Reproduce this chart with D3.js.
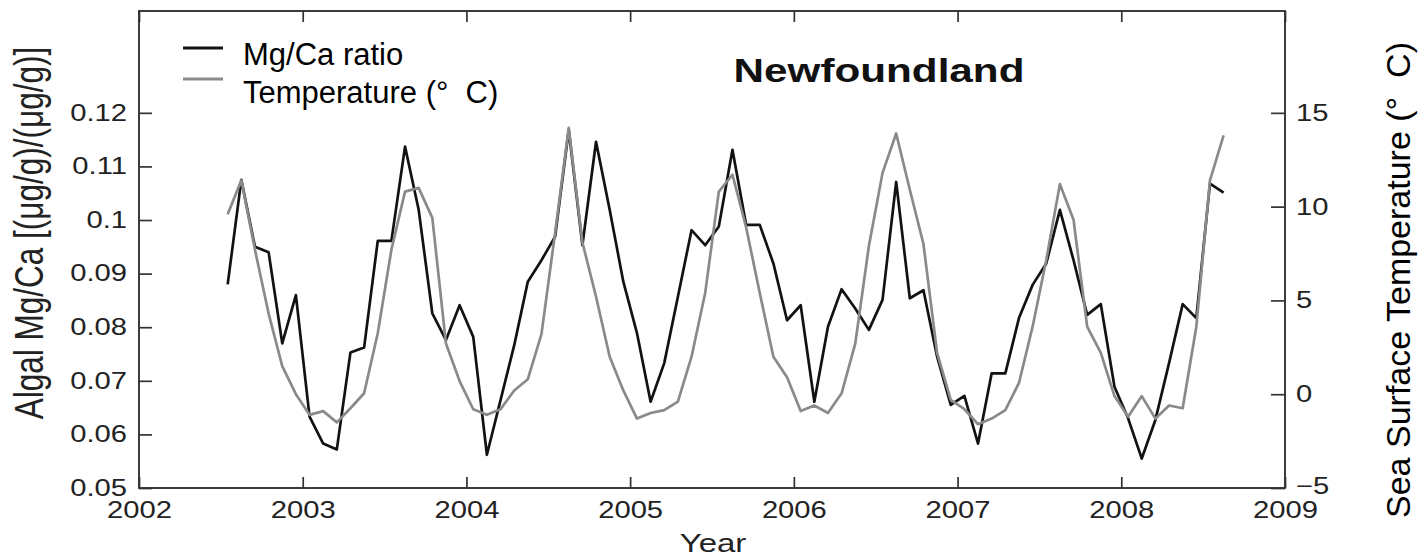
<!DOCTYPE html>
<html>
<head>
<meta charset="utf-8">
<script src="https://cdn.jsdelivr.net/npm/d3@7"></script>
<style>
  body { margin: 0; background: #fff; }
  svg { display: block; font-family: "Liberation Sans", Arial, Helvetica, sans-serif; }
</style>
</head>
<body>
<div id="chart"></div>
<script>
// monthly samples, Jul 2002 - Aug 2008
const months = [
  "2002-07","2002-08","2002-09","2002-10","2002-11","2002-12",
  "2003-01","2003-02","2003-03","2003-04","2003-05","2003-06","2003-07","2003-08","2003-09","2003-10","2003-11","2003-12",
  "2004-01","2004-02","2004-03","2004-04","2004-05","2004-06","2004-07","2004-08","2004-09","2004-10","2004-11","2004-12",
  "2005-01","2005-02","2005-03","2005-04","2005-05","2005-06","2005-07","2005-08","2005-09","2005-10","2005-11","2005-12",
  "2006-01","2006-02","2006-03","2006-04","2006-05","2006-06","2006-07","2006-08","2006-09","2006-10","2006-11","2006-12",
  "2007-01","2007-02","2007-03","2007-04","2007-05","2007-06","2007-07","2007-08","2007-09","2007-10","2007-11","2007-12",
  "2008-01","2008-02","2008-03","2008-04","2008-05","2008-06","2008-07","2008-08"
];

// algal Mg/Ca ratio
const mgca = [
  0.088, 0.1075, 0.095, 0.094, 0.077, 0.086,
  0.0633, 0.0583, 0.0572, 0.0753, 0.0762, 0.0961, 0.0961, 0.1137, 0.1019, 0.0826, 0.0776, 0.0841,
  0.0782, 0.0562, 0.0664, 0.0766, 0.0885, 0.0925, 0.0969, 0.1168, 0.0953, 0.1146, 0.1019, 0.0885,
  0.0789, 0.0661, 0.0733, 0.0857, 0.0981, 0.0953, 0.0988, 0.1131, 0.0991, 0.0991, 0.0919, 0.0813,
  0.0841, 0.0661, 0.0801, 0.0871, 0.0835, 0.0795, 0.0851, 0.1071, 0.0854, 0.0869, 0.0745, 0.0655,
  0.0672, 0.0583, 0.0714, 0.0714, 0.0817, 0.0879, 0.0919, 0.1019, 0.0925, 0.0823, 0.0843, 0.0689,
  0.063, 0.0555, 0.0627, 0.0733, 0.0843, 0.0817, 0.1068, 0.1051
];

// sea surface temperature (deg C)
const temperature = [
  9.6, 11.4, 7.7, 4.3, 1.5, 0.0,
  -1.1, -0.9, -1.5, -0.75, 0.05, 3.25, 7.7, 10.8, 11.0, 9.4, 2.7, 0.7,
  -0.8, -1.1, -0.8, 0.2, 0.8, 3.2, 8.6, 14.2, 8.1, 5.2, 2.0, 0.2,
  -1.3, -1.0, -0.85, -0.4, 2.0, 5.4, 10.8, 11.7, 8.9, 5.4, 2.0, 0.9,
  -0.9, -0.6, -1.0, 0.05, 2.7, 7.9, 11.8, 13.9, 10.9, 8.0, 2.2, -0.3,
  -0.8, -1.6, -1.3, -0.85, 0.6, 3.6, 7.15, 11.2, 9.3, 3.6, 2.2, -0.1,
  -1.2, -0.1, -1.3, -0.6, -0.75, 3.6, 11.4, 13.8
];

const yearTicks = [2002, 2003, 2004, 2005, 2006, 2007, 2008, 2009];
const mgcaTicks = [0.05, 0.06, 0.07, 0.08, 0.09, 0.1, 0.11, 0.12];
const tempTicks = [-5, 0, 5, 10, 15];

const width = 1420, height = 557;
const plot = {left: 139, right: 1285, top: 11, bottom: 488};
const sx = 1.27;   // the source figure is stretched sideways
const ink = "#222";

// month string -> decimal year (mid month)
const toYear = s => { const [y, m] = s.split("-").map(Number); return y + (m - 0.5) / 12; };
const mgData = months.map((m, i) => ({t: toYear(m), v: mgca[i]}));
const tData = months.map((m, i) => ({t: toYear(m), v: temperature[i]}));

const x = d3.scaleLinear().domain([2002, 2009]).range([plot.left, plot.right]);
const yL = d3.scaleLinear().domain([0.05, 0.139]).range([plot.bottom, plot.top]);
const yR = d3.scaleLinear().domain([-5, 20.43]).range([plot.bottom, plot.top]);

const svg = d3.select("#chart").append("svg")
    .attr("width", width)
    .attr("height", height)
    .attr("viewBox", [0, 0, width, height]);

// axes, ticks pointing inward
const gx = svg.append("g")
    .attr("transform", `translate(0,${plot.bottom})`)
    .call(d3.axisBottom(x).tickValues(yearTicks).tickFormat(d3.format("d")).tickSizeInner(-11).tickSizeOuter(0));
gx.selectAll("text")
    .attr("y", 0).attr("dy", 0)
    .attr("transform", `translate(0,30) scale(${sx},1)`);

const gt = svg.append("g")
    .attr("transform", `translate(0,${plot.top})`)
    .call(d3.axisTop(x).tickValues(yearTicks).tickFormat("").tickSizeInner(-11).tickSizeOuter(0));

const gl = svg.append("g")
    .attr("transform", `translate(${plot.left},0)`)
    .call(d3.axisLeft(yL).tickValues(mgcaTicks).tickFormat(d => String(+d.toFixed(2))).tickSizeInner(-13).tickSizeOuter(0));
gl.selectAll("text")
    .attr("x", 0)
    .attr("transform", `translate(-12,0) scale(${sx},1)`);

const gr = svg.append("g")
    .attr("transform", `translate(${plot.right},0)`)
    .call(d3.axisRight(yR).tickValues(tempTicks).tickFormat(d3.format("d")).tickSizeInner(-14).tickSizeOuter(0));
gr.selectAll("text")
    .attr("x", 0)
    .attr("transform", d => `translate(11,${d === -5 ? -2 : 0}) scale(${sx},1)`);

[gx, gt, gl, gr].forEach(g => {
  g.select(".domain").remove();
  g.selectAll("line").attr("stroke", "#333").attr("stroke-width", 1.7);
  g.selectAll("text").attr("fill", ink).attr("font-size", 23)
      .attr("font-family", "'Liberation Sans', Arial, sans-serif");
});

svg.append("rect")
    .attr("x", plot.left).attr("y", plot.top)
    .attr("width", plot.right - plot.left).attr("height", plot.bottom - plot.top)
    .attr("fill", "none")
    .attr("stroke", "#333")
    .attr("stroke-width", 1.9);

// series
svg.append("path")
    .datum(mgData)
    .attr("fill", "none")
    .attr("stroke", "#121212")
    .attr("stroke-width", 2.7)
    .attr("stroke-linejoin", "round")
    .attr("d", d3.line().x(d => x(d.t)).y(d => yL(d.v)));

svg.append("path")
    .datum(tData)
    .attr("fill", "none")
    .attr("stroke", "#8a8a8a")
    .attr("stroke-width", 2.7)
    .attr("stroke-linejoin", "round")
    .attr("d", d3.line().x(d => x(d.t)).y(d => yR(d.v)));

// labels
svg.append("text")
    .attr("transform", `translate(879,82) scale(1.28,1)`)
    .attr("text-anchor", "middle")
    .attr("font-size", 33)
    .attr("font-weight", "bold")
    .attr("fill", "#111")
    .text("Newfoundland");

svg.append("text")
    .attr("transform", `translate(713,552) scale(${sx},1)`)
    .attr("text-anchor", "middle")
    .attr("font-size", 26)
    .attr("fill", ink)
    .text("Year");

svg.append("text")
    .attr("transform", `translate(43,233) scale(${sx},1) rotate(-90)`)
    .attr("text-anchor", "middle")
    .attr("font-size", 31.5)
    .attr("fill", ink)
    .text("Algal Mg/Ca [(μg/g)/(μg/g)]");

svg.append("text")
    .attr("transform", "translate(1410,280) rotate(-90)")
    .attr("text-anchor", "middle")
    .attr("font-size", 34)
    .attr("fill", "#000")
    .text("Sea Surface Temperature (°\u00A0\u00A0C)");

// legend
const legend = svg.append("g");
const legendItems = [
  {label: "Mg/Ca ratio", color: "#121212", ly: 48, ty: 65},
  {label: "Temperature (°\u00A0\u00A0C)", color: "#8a8a8a", ly: 79, ty: 103}
];
legend.selectAll("line")
  .data(legendItems)
  .join("line")
    .attr("x1", 183).attr("x2", 223)
    .attr("y1", d => d.ly).attr("y2", d => d.ly)
    .attr("stroke", d => d.color)
    .attr("stroke-width", 2.8);
legend.selectAll("text")
  .data(legendItems)
  .join("text")
    .attr("x", 243).attr("y", d => d.ty)
    .attr("font-size", 31)
    .attr("fill", "#000")
    .text(d => d.label);
</script>
</body>
</html>
